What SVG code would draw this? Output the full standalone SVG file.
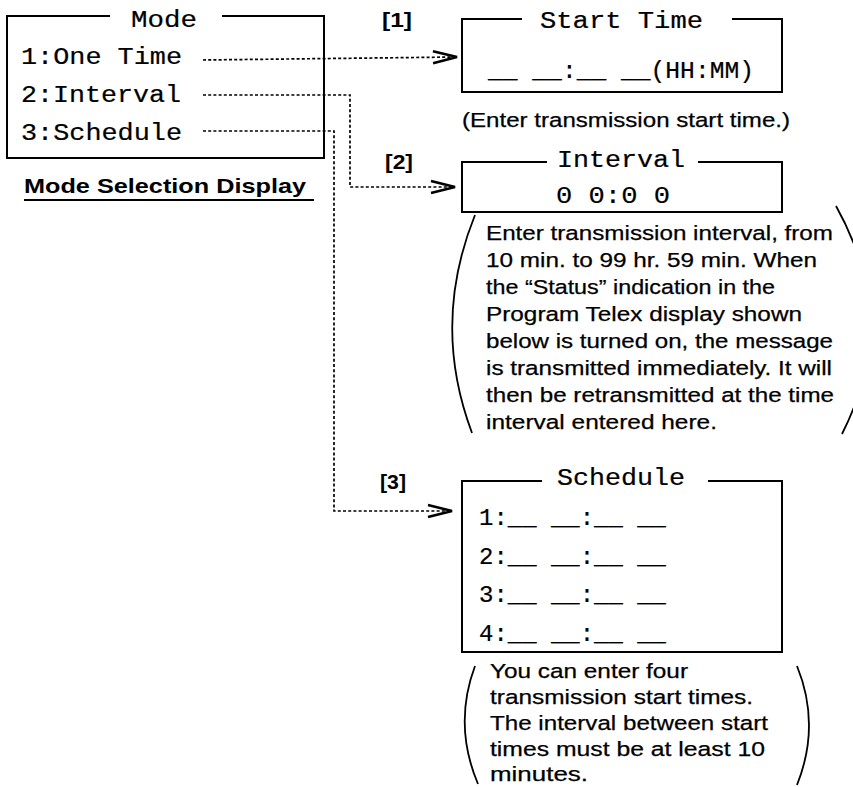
<svg xmlns="http://www.w3.org/2000/svg" width="853" height="787" viewBox="0 0 853 787">
<style>
.box{fill:none;stroke:#000;stroke-width:2}
.mono{font-family:"Liberation Mono","Courier New",monospace;font-size:23px;fill:#000;stroke:#000;stroke-width:0.2}
.sans{font-family:"Liberation Sans",Arial,Helvetica,sans-serif;font-size:20.5px;fill:#000;stroke:#000;stroke-width:0.25}
.bold{font-family:"Liberation Sans",Arial,Helvetica,sans-serif;font-size:21px;font-weight:bold;fill:#000}
.conn{fill:none;stroke:#000;stroke-width:1.7;stroke-dasharray:3 2.2}
.paren{fill:none;stroke:#000;stroke-width:1.8}
</style>
<defs>
<marker id="arr" viewBox="-27 -9 30 18" markerWidth="30" markerHeight="18" refX="0" refY="0" orient="auto" markerUnits="userSpaceOnUse">
<path d="M-24,-6 L0,0 L-24,6" fill="none" stroke="#000" stroke-width="2.6" stroke-linejoin="miter"/>
</marker>
</defs>
<rect width="853" height="787" fill="#fff"/>

<g id="connectors">
<path class="conn" d="M203,60 L457,57" marker-end="url(#arr)"/>
<path class="conn" d="M203,95 H350 V187 H455" marker-end="url(#arr)"/>
<path class="conn" d="M203,131 H334 V511 H452" marker-end="url(#arr)"/>
</g>

<g id="mode-selection">
<path class="box" d="M110,16 H7 V158 H324 V16 H222"/>
<text class="mono" x="131" y="27" textLength="66" lengthAdjust="spacingAndGlyphs">Mode</text>
<text class="mono" x="21" y="64" textLength="161" lengthAdjust="spacingAndGlyphs">1:One Time</text>
<text class="mono" x="21" y="102" textLength="160" lengthAdjust="spacingAndGlyphs">2:Interval</text>
<text class="mono" x="21" y="140" textLength="161" lengthAdjust="spacingAndGlyphs">3:Schedule</text>
<text class="bold" x="24" y="193" font-size="22" textLength="282" lengthAdjust="spacingAndGlyphs">Mode Selection Display</text>
<line x1="24" y1="200" x2="314" y2="200" stroke="#000" stroke-width="2"/>
</g>

<g id="start-time">
<text class="bold" x="382" y="27" textLength="30" lengthAdjust="spacingAndGlyphs">[1]</text>
<path class="box" d="M522,19 H462 V92 H782 V19 H732"/>
<text class="mono" x="540" y="28" textLength="163" lengthAdjust="spacingAndGlyphs">Start Time</text>
<text class="mono" x="488" y="78" textLength="266" lengthAdjust="spacingAndGlyphs">__ __:__ __(HH:MM)</text>
<text class="sans" x="462" y="127" textLength="328" lengthAdjust="spacingAndGlyphs">(Enter transmission start time.)</text>
</g>

<g id="interval">
<text class="bold" x="385" y="169" textLength="28" lengthAdjust="spacingAndGlyphs">[2]</text>
<path class="box" d="M547,162 H462 V212 H782 V162 H698"/>
<text class="mono" x="557" y="167" textLength="128" lengthAdjust="spacingAndGlyphs">Interval</text>
<text class="mono" x="556" y="203" textLength="114" lengthAdjust="spacingAndGlyphs">0 0:0 0</text>
<path class="paren" d="M475,215 Q431,324 472,433"/>
<path class="paren" d="M836,206 Q900,320 842,434"/>
<text class="sans" x="486" y="240" textLength="347" lengthAdjust="spacingAndGlyphs">Enter transmission interval, from</text>
<text class="sans" x="486" y="267" textLength="331" lengthAdjust="spacingAndGlyphs">10 min. to 99 hr. 59 min. When</text>
<text class="sans" x="486" y="294" textLength="289" lengthAdjust="spacingAndGlyphs">the “Status” indication in the</text>
<text class="sans" x="486" y="321" textLength="316" lengthAdjust="spacingAndGlyphs">Program Telex display shown</text>
<text class="sans" x="486" y="348" textLength="347" lengthAdjust="spacingAndGlyphs">below is turned on, the message</text>
<text class="sans" x="486" y="375" textLength="346" lengthAdjust="spacingAndGlyphs">is transmitted immediately. It will</text>
<text class="sans" x="486" y="402" textLength="348" lengthAdjust="spacingAndGlyphs">then be retransmitted at the time</text>
<text class="sans" x="486" y="429" textLength="231" lengthAdjust="spacingAndGlyphs">interval entered here.</text>
</g>

<g id="schedule">
<text class="bold" x="380" y="489" textLength="26" lengthAdjust="spacingAndGlyphs">[3]</text>
<path class="box" d="M542,481 H462 V652 H782 V481 H708"/>
<text class="mono" x="557" y="485" textLength="128" lengthAdjust="spacingAndGlyphs">Schedule</text>
<text class="mono" x="479" y="525" textLength="187" lengthAdjust="spacingAndGlyphs">1:__ __:__ __</text>
<text class="mono" x="479" y="564" textLength="187" lengthAdjust="spacingAndGlyphs">2:__ __:__ __</text>
<text class="mono" x="479" y="602" textLength="187" lengthAdjust="spacingAndGlyphs">3:__ __:__ __</text>
<text class="mono" x="479" y="641" textLength="187" lengthAdjust="spacingAndGlyphs">4:__ __:__ __</text>
<path class="paren" d="M475,666 Q453,725 478,784"/>
<path class="paren" d="M797,666 Q821,725 797,785"/>
<text class="sans" x="490" y="678" textLength="198" lengthAdjust="spacingAndGlyphs">You can enter four</text>
<text class="sans" x="490" y="704" textLength="263" lengthAdjust="spacingAndGlyphs">transmission start times.</text>
<text class="sans" x="490" y="730" textLength="278" lengthAdjust="spacingAndGlyphs">The interval between start</text>
<text class="sans" x="490" y="756" textLength="275" lengthAdjust="spacingAndGlyphs">times must be at least 10</text>
<text class="sans" x="490" y="781" textLength="98" lengthAdjust="spacingAndGlyphs">minutes.</text>
</g>
</svg>
